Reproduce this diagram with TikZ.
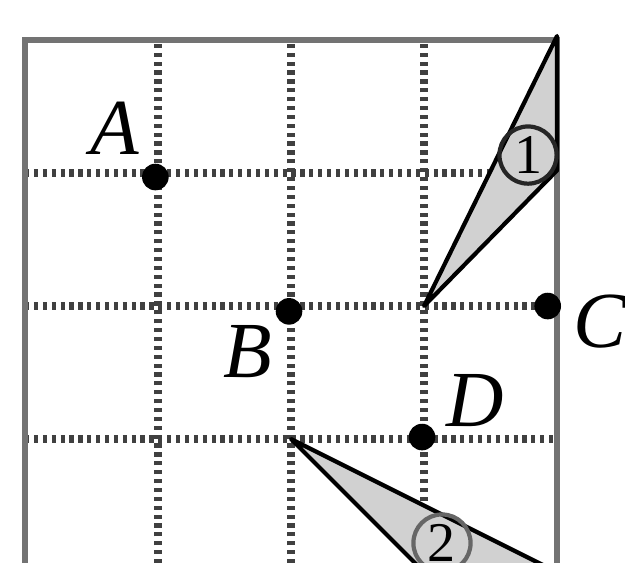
\documentclass[tikz,border=0pt]{standalone}
\usepackage{fontspec}
\setmainfont{Liberation Serif}
\usepackage{tikz}
\begin{document}
\begin{tikzpicture}[x=1cm,y=1cm,
  gridline/.style={line width=1.8pt, draw=black!75, dash pattern=on 0.9pt off 1pt},
  frame/.style={line width=1.1pt, draw=black!55},
  shade/.style={fill=black!18, draw=black, line width=0.9pt, line join=round},
  dotpt/.style={circle, fill=black, inner sep=0pt, minimum size=0.2cm},
  lab/.style={font=\fontsize{17}{20}\selectfont\itshape},
  num/.style={circle, draw=black!85, line width=0.9pt, minimum size=0.43cm, inner sep=0pt, font=\fontsize{12}{14}\selectfont}]
\useasboundingbox (-0.188,0.075) rectangle (4.511,4.301);
\begin{scope}
\clip (-0.188,0.075) rectangle (4.511,4.301);
% grid
\foreach \i in {1,2,3} {
  \draw[gridline] (\i,-0.2) -- (\i,4);
  \draw[gridline] (0,\i) -- (4,\i);
}
\draw[frame] (0,-0.2) -- (0,4) -- (4,4) -- (4,-0.2);
% triangles
\coordinate (t1a) at (4,4.03);
\coordinate (t1b) at (4,3.02);
\coordinate (t1c) at (3,2);
\filldraw[shade] (t1a) -- (t1b) -- (t1c) -- cycle;
\coordinate (t2a) at (2,1);
\coordinate (t2b) at (3,0);
\coordinate (t2c) at (4,0);
\filldraw[shade] (t2a) -- (t2b) -- (t2c) -- cycle;
\node[num] (n1) at (3.782,3.135) {1};
\node[num, draw=black!60] (n2) at (3.135,0.218) {2};
% points
\node[dotpt] (A) at (0.98,2.97) {};
\node[dotpt] (B) at (1.985,1.96) {};
\node[dotpt] (C) at (3.93,2.0) {};
\node[dotpt] (D) at (2.985,1.015) {};
\node[lab] (lA) at (0.677,3.338) {A};
\node[lab] (lB) at (1.677,1.654) {B};
\node[lab] (lC) at (4.323,1.88) {C};
\node[lab] (lD) at (3.383,1.293) {D};
\end{scope}
\end{tikzpicture}
\end{document}
